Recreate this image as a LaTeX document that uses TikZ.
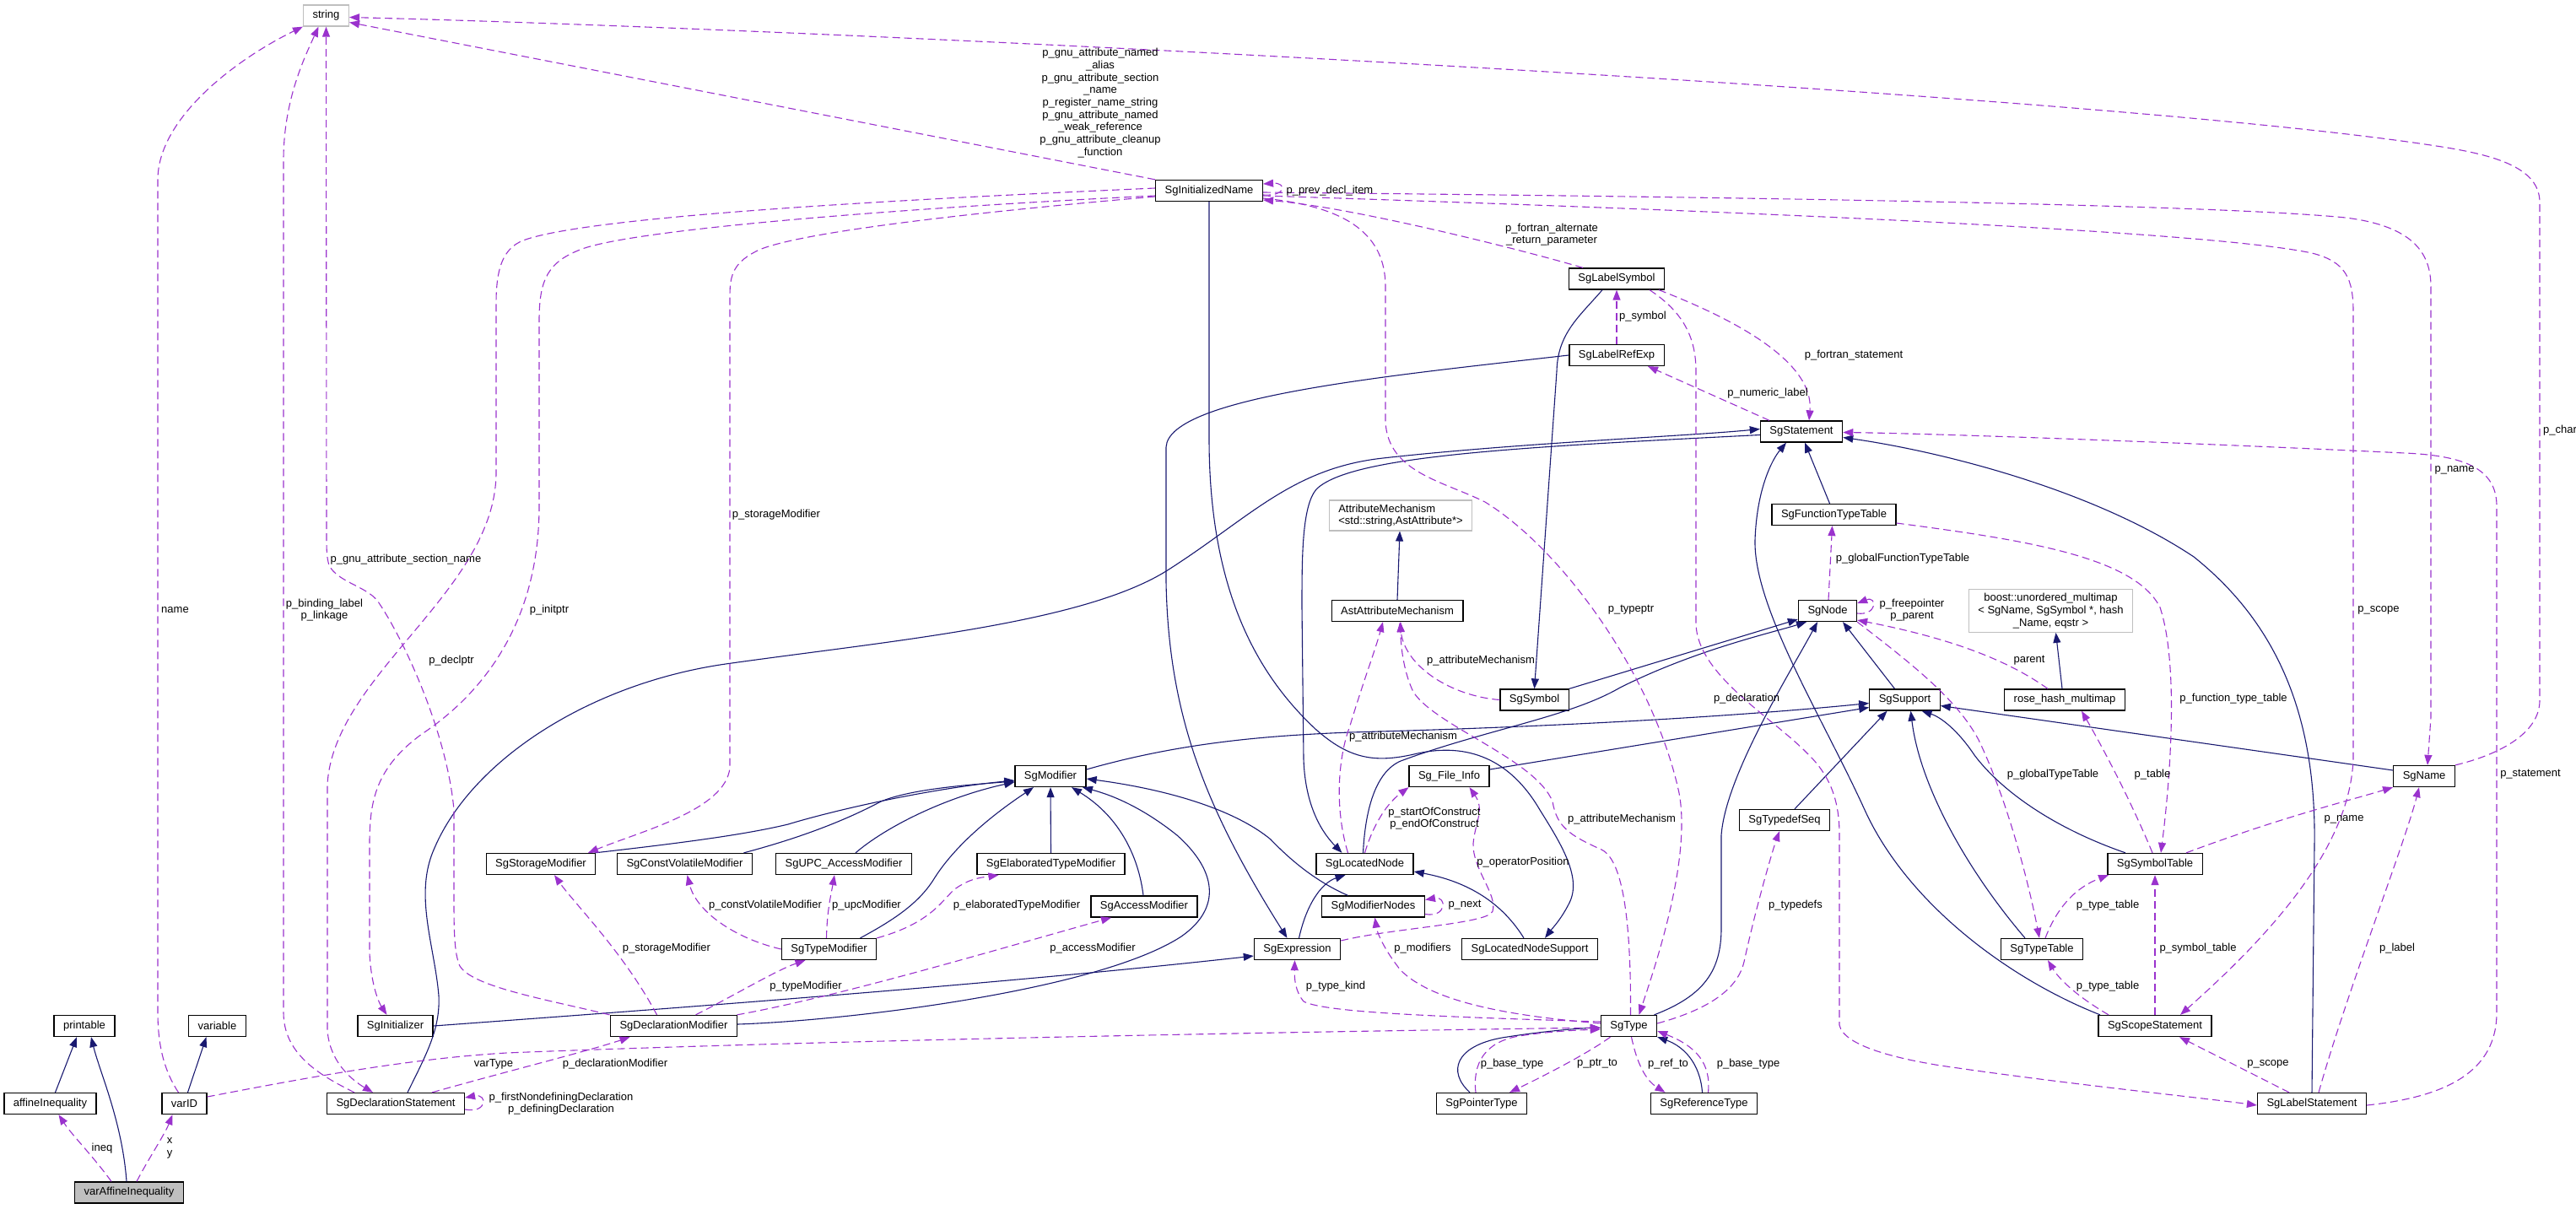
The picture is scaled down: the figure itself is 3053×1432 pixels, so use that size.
\documentclass[tikz,border=0pt]{standalone}
\usepackage{fontspec}
\setmainfont{Liberation Sans}
\usetikzlibrary{arrows.meta}
\definecolor{inhblue}{HTML}{191970}
\definecolor{usepurple}{HTML}{9A32CD}
\definecolor{extgray}{HTML}{BFBFBF}
\begin{document}
\begin{tikzpicture}[x=1pt,y=-1pt,
    font=\fontsize{13}{14.7}\selectfont,
    cls/.style={draw=black,line width=1.3pt,fill=white,inner xsep=11pt,inner ysep=3pt,minimum height=25pt},
    ext/.style={cls,draw=extgray,inner ysep=4.5pt},
    inh/.style={draw=inhblue,line width=1.1pt,-{Triangle[length=12pt,width=9pt]}},
    use/.style={draw=usepurple,line width=1.1pt,dash pattern=on 9pt off 5pt,-{Triangle[length=12pt,width=9pt]}},
    lbl/.style={inner sep=0pt,align=center}]
    \useasboundingbox (0,0) rectangle (3053,1432);
    \node[ext] (str) at (386.5,18.5) {string};
    \node[cls] (initname) at (1433,226) {SgInitializedName};
    \node[cls] (lsym) at (1916,330.5) {SgLabelSymbol};
    \node[cls] (lref) at (1916,421) {SgLabelRefExp};
    \node[cls] (stmt) at (2135,511.5) {SgStatement};
    \node[ext,align=left] (attrmech) at (1660,611) {AttributeMechanism\\<std::string,AstAttribute*>};
    \node[cls] (ftt) at (2173.5,610) {SgFunctionTypeTable};
    \node[cls] (astattr) at (1656,724) {AstAttributeMechanism};
    \node[cls] (sgnode) at (2166,724) {SgNode};
    \node[ext,align=center] (boost) at (2430.5,724) {boost::unordered\_multimap\\< SgName, SgSymbol *, hash\\\_Name, eqstr >};
    \node[cls] (sgsym) at (1818.5,829.5) {SgSymbol};
    \node[cls] (support) at (2257.5,829.5) {SgSupport};
    \node[cls] (rosehash) at (2447,829.5) {rose\_hash\_multimap};
    \node[cls] (finfo) at (1717.5,920) {Sg\_File\_Info};
    \node[cls] (modifier) at (1245,920) {SgModifier};
    \node[cls] (sgname) at (2873,920) {SgName};
    \node[cls] (tdseq) at (2115,972) {SgTypedefSeq};
    \node[cls] (storage) at (641,1024) {SgStorageModifier};
    \node[cls] (cvmod) at (811.5,1024) {SgConstVolatileModifier};
    \node[cls] (upcmod) at (1000,1024) {SgUPC\_AccessModifier};
    \node[cls] (elabmod) at (1245.5,1024) {SgElaboratedTypeModifier};
    \node[cls] (lnode) at (1617.5,1024) {SgLocatedNode};
    \node[cls] (symtab) at (2554,1024) {SgSymbolTable};
    \node[cls] (accmod) at (1356,1074.5) {SgAccessModifier};
    \node[cls] (modnodes) at (1627.5,1074.5) {SgModifierNodes};
    \node[cls] (typemod) at (982.5,1125) {SgTypeModifier};
    \node[cls] (expr) at (1537.5,1125) {SgExpression};
    \node[cls] (lnsup) at (1813,1125) {SgLocatedNodeSupport};
    \node[cls] (typetab) at (2420,1125) {SgTypeTable};
    \node[cls] (printable) at (100,1216) {printable};
    \node[cls] (variable) at (257.5,1216) {variable};
    \node[cls] (init) at (468.5,1216) {SgInitializer};
    \node[cls] (declmod) at (798.5,1216) {SgDeclarationModifier};
    \node[cls] (sgtype) at (1930.5,1216) {SgType};
    \node[cls] (scope) at (2554,1216) {SgScopeStatement};
    \node[cls] (affine) at (59.5,1308) {affineInequality};
    \node[cls] (varid) at (218.5,1308) {varID};
    \node[cls] (declstmt) at (469,1308) {SgDeclarationStatement};
    \node[cls] (ptrtype) at (1756,1308) {SgPointerType};
    \node[cls] (reftype) at (2019.5,1308) {SgReferenceType};
    \node[cls] (lstmt) at (2740,1308) {SgLabelStatement};
    \node[cls,fill=extgray] (varaff) at (153,1413.5) {varAffineInequality};
    \draw[inh] ([xshift=6pt]affine.north) -- ([xshift=-9pt]printable.south);
    \draw[inh] ([xshift=-3pt]varaff.north) .. controls (145,1330) and (118,1270) .. ([xshift=8pt]printable.south);
    \draw[inh] ([xshift=4pt]varid.north) -- ([xshift=-13pt]variable.south);
    \draw[inh] (initname.south) -- (1433,520) .. controls (1433,700) and (1490,800) .. (1560,865) .. controls (1600,900) and (1630,905) .. (1680,893) .. controls (1740,880) and (1790,900) .. (1825,960) .. controls (1850,1000) and (1875,1040) .. (1860,1070) .. controls (1850,1090) and (1840,1100) .. ([xshift=18pt]lnsup.north);
    \draw[inh] ([xshift=-17pt]lsym.south) .. controls (1872,375) and (1846,395) .. (1845,440) -- (sgsym.north);
    \draw[inh] (lref.west) .. controls (1650,445) and (1385,470) .. (1382,530) -- (1382,690) .. controls (1385,850) and (1430,960) .. ([xshift=-12pt]expr.north);
    \draw[inh] ([yshift=-4pt]stmt.west) .. controls (1800,530) and (1600,540) .. (1560,580) .. controls (1543,600) and (1543,660) .. (1543,720) -- (1545,900) .. controls (1547,960) and (1570,990) .. ([xshift=-27pt]lnode.north);
    \draw[inh] ([xshift=14pt]declstmt.north) .. controls (505,1250) and (522,1220) .. (520,1180) .. controls (515,1120) and (490,1060) .. (515,1005) .. controls (560,900) and (700,810) .. (860,787) .. controls (1050,760) and (1280,740) .. (1382,677) .. controls (1480,615) and (1530,555) .. (1639,543) .. controls (1800,525) and (2000,517) .. ([yshift=3pt]stmt.west);
    \draw[inh] ([xshift=-5pt]ftt.north) -- ([xshift=4pt]stmt.south);
    \draw[inh] ([xshift=-65pt]scope.north) .. controls (2380,1160) and (2260,1070) .. (2210,960) .. controls (2160,850) and (2078,720) .. (2080,640) .. controls (2082,580) and (2100,545) .. ([xshift=-18pt]stmt.south);
    \draw[inh] (lstmt.north) -- (2743,1000) .. controls (2745,850) and (2700,740) .. (2600,660) .. controls (2480,580) and (2300,535) .. ([yshift=-7pt]stmt.east);
    \draw[inh] (sgsym.north east) -- ([yshift=-10pt]sgnode.west);
    \draw[inh] ([xshift=-2pt]lnode.north) .. controls (1618,960) and (1630,915) .. (1660,902) .. controls (1760,865) and (1860,850) .. (1920,815) .. controls (2010,770) and (2100,750) .. ([xshift=-25pt]sgnode.south);
    \draw[inh] ([xshift=30pt]sgtype.north) .. controls (2020,1180) and (2040,1150) .. (2040,1100) -- (2040,990) .. controls (2045,920) and (2120,800) .. ([xshift=-12pt]sgnode.south);
    \draw[inh] ([xshift=-12pt]support.north) -- ([xshift=18pt]sgnode.south);
    \draw[inh] ([yshift=8pt]modifier.east) .. controls (1400,880) and (1500,872) .. (1600,868) .. controls (1900,860) and (2100,845) .. ([yshift=-4pt]support.west);
    \draw[inh] ([yshift=8pt]finfo.east) -- ([yshift=-9pt]support.west);
    \draw[inh] ([yshift=7pt]sgname.west) -- ([yshift=-7pt]support.east);
    \draw[inh] ([xshift=12pt]tdseq.north) -- ([xshift=-21pt]support.south);
    \draw[inh] ([xshift=-20pt]typetab.north) .. controls (2330,1030) and (2275,930) .. ([xshift=7pt]support.south);
    \draw[inh] ([xshift=-35pt]symtab.north) .. controls (2430,980) and (2370,935) .. (2340,895) .. controls (2320,865) and (2300,850) .. ([xshift=20pt]support.south);
    \draw[inh] ([xshift=-3pt]rosehash.north) -- ([xshift=6pt]boost.south);
    \draw[inh] (astattr.north) -- ([xshift=-1pt]attrmech.south);
    \draw[inh] ([xshift=64pt]storage.north) .. controls (800,1000) and (880,990) .. (934,977) .. controls (990,960) and (1100,935) .. ([yshift=-5pt]modifier.west);
    \draw[inh] ([xshift=70pt]cvmod.north) .. controls (960,990) and (1010,968) .. (1044,950) .. controls (1080,935) and (1150,930) .. ([yshift=-6pt]modifier.west);
    \draw[inh] ([xshift=14pt]upcmod.north) .. controls (1050,980) and (1120,945) .. ([yshift=-7pt]modifier.west);
    \draw[inh] ([xshift=37pt]typemod.north) .. controls (1060,1090) and (1090,1070) .. (1108,1040) .. controls (1140,990) and (1200,950) .. ([xshift=-20pt]modifier.south);
    \draw[inh] (elabmod.north) -- (modifier.south);
    \draw[inh] ([xshift=-1pt]accmod.north) .. controls (1350,1020) and (1330,970) .. ([xshift=25pt]modifier.south);
    \draw[inh] ([yshift=2pt]declmod.east) .. controls (1000,1210) and (1300,1175) .. (1400,1110) .. controls (1450,1075) and (1440,1030) .. (1395,990) .. controls (1355,958) and (1320,943) .. ([xshift=38pt]modifier.south);
    \draw[inh] ([xshift=-30pt]modnodes.north) .. controls (1560,1045) and (1530,1020) .. (1506,995) .. controls (1470,965) and (1400,938) .. ([yshift=-3pt]modifier.east);
    \draw[inh] ([xshift=2pt]expr.north) .. controls (1550,1065) and (1570,1045) .. ([xshift=-23pt]lnode.south);
    \draw[inh] ([xshift=-7pt]lnsup.north) .. controls (1780,1070) and (1740,1045) .. ([yshift=-9pt]lnode.east);
    \draw[inh] (init.east) .. controls (800,1195) and (1200,1165) .. ([yshift=-8pt]expr.west);
    \draw[inh] ([xshift=-14pt]ptrtype.north) .. controls (1715,1270) and (1725,1240) .. (1780,1230) .. controls (1830,1222) and (1870,1219) .. ([yshift=-2pt]sgtype.west);
    \draw[inh] ([xshift=-2pt]reftype.north) .. controls (2015,1260) and (1995,1240) .. (sgtype.south east);
    \draw[use] ([xshift=-21pt]varaff.north) .. controls (110,1370) and (85,1345) .. ([xshift=10pt]affine.south);
    \draw[use] ([xshift=9pt]varaff.north) .. controls (175,1375) and (195,1345) .. ([xshift=-14pt]varid.south);
    \draw[use] ([xshift=-7pt]varid.north) .. controls (195,1270) and (187,1240) .. (187,1200) -- (187,213) .. controls (187,140) and (280,70) .. (str.south west);
    \draw[use] ([yshift=8pt]varid.east) .. controls (350,1280) and (480,1255) .. (600,1248) .. controls (1000,1232) and (1600,1222) .. ([yshift=-2pt]sgtype.west);
    \draw[use] ([xshift=-49pt]declstmt.north) .. controls (380,1275) and (336,1250) .. (336,1200) -- (336,190) .. controls (336,120) and (360,70) .. ([xshift=-9pt]str.south);
    \draw[use] ([xshift=-76pt]declmod.north) .. controls (650,1185) and (560,1170) .. (545,1145) .. controls (538,1130) and (538,1100) .. (538,1060) -- (538,960) .. controls (530,870) and (480,760) .. (448,713) .. controls (435,695) and (400,690) .. (390,670) .. controls (387,660) and (387,650) .. (387,635) -- (str.south);
    \draw[use] ([yshift=3pt]initname.west) .. controls (1100,235) and (700,255) .. (620,285) .. controls (595,295) and (588,320) .. (588,360) -- (588,560) .. controls (588,700) and (395,800) .. (388,930) -- (388,1220) .. controls (390,1260) and (420,1282) .. ([xshift=-27pt]declstmt.north);
    \draw[use] ([yshift=-6pt]initname.west) .. controls (1100,245) and (760,270) .. (690,295) .. controls (650,310) and (639,330) .. (639,380) -- (639,600) .. controls (639,750) and (560,830) .. (500,870) .. controls (445,910) and (438,950) .. (438,1000) -- (438,1130) .. controls (440,1170) and (450,1190) .. ([xshift=-10pt]init.north);
    \draw[use] ([yshift=-7pt]initname.west) .. controls (1150,252) and (950,275) .. (900,296) .. controls (870,310) and (865,325) .. (865,350) -- (865,910) .. controls (860,960) and (760,985) .. ([xshift=56pt]storage.north);
    \draw[use] (initname.north west) -- ([yshift=-8pt]str.east);
    \draw[use] (sgname.north east) .. controls (2960,895) and (3010,870) .. (3010,830) -- (3010,240) .. controls (3010,200) and (2960,185) .. (2900,175) .. controls (2500,110) and (1000,35) .. ([yshift=-2pt]str.east);
    \draw[use] ([yshift=-5pt]initname.east) .. controls (1525,233) and (1525,216) .. ([yshift=8pt]initname.east);
    \draw[use] ([xshift=-40pt]lsym.north) .. controls (1800,295) and (1600,245) .. ([yshift=-11pt]initname.east);
    \draw[use] ([yshift=-9pt]initname.east) .. controls (1600,245) and (1642,280) .. (1642,340) -- (1642,500) .. controls (1645,560) and (1710,570) .. (1760,595) .. controls (1850,650) and (1960,800) .. (1990,940) .. controls (2005,1020) and (1960,1150) .. ([xshift=12pt]sgtype.north);
    \draw[use] ([yshift=-6pt]initname.east) .. controls (1900,245) and (2600,270) .. (2740,300) .. controls (2780,310) and (2789,330) .. (2789,370) -- (2789,900) .. controls (2785,1000) and (2700,1100) .. ([xshift=30pt]scope.north);
    \draw[use] ([yshift=-2pt]initname.east) .. controls (1900,232) and (2600,240) .. (2780,258) .. controls (2860,268) and (2881,300) .. (2881,340) -- (2881,850) -- ([xshift=4pt]sgname.north);
    \draw[use] ([xshift=50pt]lsym.south) .. controls (2060,380) and (2150,430) .. ([xshift=9pt]stmt.north);
    \draw[use] (lref.north) -- (lsym.south);
    \draw[use] ([xshift=-38pt]stmt.north) -- ([xshift=37pt]lref.south);
    \draw[use] ([xshift=39pt]lsym.south) .. controls (1995,370) and (2010,400) .. (2010,440) -- (2010,740) .. controls (2012,800) and (2100,850) .. (2142,893) .. controls (2170,920) and (2180,950) .. (2180,990) -- (2180,1215) .. controls (2185,1240) and (2250,1255) .. (2300,1263) .. controls (2450,1285) and (2600,1300) .. ([yshift=-2pt]lstmt.west);
    \draw[use] ([yshift=-2pt]lstmt.east) .. controls (2900,1300) and (2959,1270) .. (2959,1200) -- (2959,600) .. controls (2959,555) and (2920,540) .. (2850,537) .. controls (2600,525) and (2300,514) .. ([yshift=-1pt]stmt.east);
    \draw[use] ([xshift=8pt]lstmt.north) .. controls (2780,1180) and (2850,1000) .. ([xshift=-6pt]sgname.south);
    \draw[use] ([xshift=-27pt]lstmt.north) -- ([xshift=29pt]scope.south);
    \draw[use] (scope.north) -- (symtab.south);
    \draw[use] ([xshift=-55pt]scope.north) .. controls (2460,1180) and (2440,1160) .. ([xshift=7pt]typetab.south);
    \draw[use] ([xshift=4pt]typetab.north) .. controls (2440,1070) and (2465,1050) .. ([xshift=-55pt]symtab.south);
    \draw[use] ([xshift=37pt]symtab.north) .. controls (2700,970) and (2780,950) .. (sgname.south west);
    \draw[use] ([xshift=-3pt]symtab.north) .. controls (2530,960) and (2500,900) .. ([xshift=20pt]rosehash.south);
    \draw[use] ([yshift=-10pt]ftt.east) .. controls (2400,640) and (2530,660) .. (2560,720) .. controls (2580,780) and (2575,900) .. ([xshift=7pt]symtab.north);
    \draw[use] ([xshift=1pt]sgnode.north) -- ([xshift=-2pt]ftt.south);
    \draw[use] ([yshift=-3pt]sgnode.east) .. controls (2225,730) and (2225,706) .. ([yshift=9pt]sgnode.east);
    \draw[use] ([xshift=-20pt]rosehash.north) .. controls (2390,790) and (2330,760) .. ([yshift=-11pt]sgnode.east);
    \draw[use] (sgnode.south east) .. controls (2270,790) and (2320,830) .. (2345,877) .. controls (2380,950) and (2405,1050) .. ([xshift=-3pt]typetab.north);
    \draw[use] ([yshift=3pt]sgtype.east) .. controls (2030,1195) and (2060,1170) .. (2067,1140) .. controls (2080,1080) and (2100,1010) .. ([xshift=-6pt]tdseq.south);
    \draw[use] ([xshift=2pt]sgtype.north) .. controls (1933,1100) and (1925,1020) .. (1898,1007) .. controls (1860,990) and (1845,980) .. (1840,950) .. controls (1820,900) and (1700,860) .. (1675,820) .. controls (1665,800) and (1660,770) .. ([xshift=4pt]astattr.south);
    \draw[use] (sgsym.west) .. controls (1720,825) and (1665,790) .. ([xshift=3pt]astattr.south);
    \draw[use] ([xshift=-20pt]lnode.north) .. controls (1582,960) and (1585,900) .. (1600,860) .. controls (1615,810) and (1630,770) .. ([xshift=-17pt]astattr.south);
    \draw[use] (lnode.north) .. controls (1625,985) and (1640,955) .. ([xshift=-48pt]finfo.south);
    \draw[use] ([yshift=10pt]expr.east) .. controls (1650,1100) and (1765,1095) .. (1769,1080) .. controls (1775,1060) and (1745,1030) .. (1746,1000) .. controls (1748,975) and (1760,960) .. ([xshift=24pt]finfo.south);
    \draw[use] ([yshift=-9pt]modnodes.east) .. controls (1715,1088) and (1715,1062) .. ([yshift=8pt]modnodes.east);
    \draw[use] ([yshift=3pt]sgtype.west) .. controls (1800,1205) and (1700,1190) .. (1660,1150) .. controls (1640,1125) and (1632,1105) .. ([xshift=2pt]modnodes.south);
    \draw[use] ([yshift=5pt]sgtype.west) .. controls (1700,1205) and (1570,1200) .. (1545,1187) .. controls (1535,1175) and (1534,1160) .. ([xshift=-3pt]expr.south);
    \draw[use] ([xshift=-7pt]ptrtype.north) .. controls (1745,1260) and (1760,1235) .. (1800,1228) .. controls (1840,1222) and (1870,1221) .. ([yshift=-4pt]sgtype.west);
    \draw[use] ([xshift=-22pt]sgtype.south) .. controls (1880,1250) and (1820,1280) .. ([xshift=33pt]ptrtype.north);
    \draw[use] ([xshift=3pt]sgtype.south) .. controls (1940,1260) and (1950,1280) .. ([xshift=-46pt]reftype.north);
    \draw[use] ([xshift=5pt]reftype.north) .. controls (2028,1260) and (2010,1240) .. ([yshift=-6pt]sgtype.east);
    \draw[use] ([yshift=-7pt]declstmt.east) .. controls (578,1320) and (578,1296) .. ([yshift=7pt]declstmt.east);
    \draw[use] ([xshift=43pt]declstmt.north) .. controls (600,1270) and (700,1245) .. ([xshift=-52pt]declmod.south);
    \draw[use] ([xshift=-20pt]declmod.north) .. controls (740,1130) and (680,1070) .. ([xshift=16pt]storage.south);
    \draw[use] ([xshift=26pt]declmod.north) .. controls (870,1180) and (920,1150) .. ([xshift=-28pt]typemod.south);
    \draw[use] ([xshift=75pt]declmod.north) .. controls (1000,1180) and (1200,1120) .. ([xshift=-39pt]accmod.south);
    \draw[use] (typemod.west) .. controls (870,1112) and (825,1080) .. ([xshift=3pt]cvmod.south);
    \draw[use] ([xshift=-3pt]typemod.north) .. controls (980,1080) and (985,1060) .. ([xshift=-11pt]upcmod.south);
    \draw[use] (typemod.north east) .. controls (1100,1095) and (1115,1070) .. (1130,1055) .. controls (1150,1040) and (1165,1040) .. ([xshift=-62pt]elabmod.south);
    \node[lbl] (l1) at (121,1361) {ineq};
    \node[lbl] (l2) at (201,1361) {x\\y};
    \node[lbl] (l3) at (207.5,723) {name};
    \node[lbl] (l4) at (384.5,723) {p\_binding\_label\\p\_linkage};
    \node[lbl] (l5) at (481,663) {p\_gnu\_attribute\_section\_name};
    \node[lbl] (l6) at (535,783) {p\_declptr};
    \node[lbl] (l7) at (651,723) {p\_initptr};
    \node[lbl] (l8) at (920,610) {p\_storageModifier};
    \node[lbl] (l9) at (585,1261) {varType};
    \node[lbl] (l10) at (729,1261) {p\_declarationModifier};
    \node[lbl] (l11) at (665,1308) {p\_firstNondefiningDeclaration\\p\_definingDeclaration};
    \node[lbl] (l12) at (790,1124) {p\_storageModifier};
    \node[lbl] (l13) at (955,1169) {p\_typeModifier};
    \node[lbl] (l14) at (1295,1124) {p\_accessModifier};
    \node[lbl] (l15) at (907,1073) {p\_constVolatileModifier};
    \node[lbl] (l16) at (1027,1073) {p\_upcModifier};
    \node[lbl] (l17) at (1205,1073) {p\_elaboratedTypeModifier};
    \node[lbl] (l18) at (1304,122) {p\_gnu\_attribute\_named\\\_alias\\p\_gnu\_attribute\_section\\\_name\\p\_register\_name\_string\\p\_gnu\_attribute\_named\\\_weak\_reference\\p\_gnu\_attribute\_cleanup\\\_function};
    \node[lbl] (l19) at (1576,226) {p\_prev\_decl\_item};
    \node[lbl] (l20) at (1839,278) {p\_fortran\_alternate\\\_return\_parameter};
    \node[lbl] (l21) at (1947,375) {p\_symbol};
    \node[lbl] (l22) at (2197,421) {p\_fortran\_statement};
    \node[lbl] (l23) at (2095,466) {p\_numeric\_label};
    \node[lbl] (l24) at (1933,723) {p\_typeptr};
    \node[lbl] (l25) at (1755,783) {p\_attributeMechanism};
    \node[lbl] (l26) at (1663,873) {p\_attributeMechanism};
    \node[lbl] (l27) at (1922,971) {p\_attributeMechanism};
    \node[lbl] (l28) at (2255,662) {p\_globalFunctionTypeTable};
    \node[lbl] (l29) at (2266,723) {p\_freepointer\\p\_parent};
    \node[lbl] (l30) at (2405,783) {parent};
    \node[lbl] (l31) at (2070,828) {p\_declaration};
    \node[lbl] (l32) at (2647,828) {p\_function\_type\_table};
    \node[lbl] (l33) at (2433,918) {p\_globalTypeTable};
    \node[lbl] (l34) at (2551,918) {p\_table};
    \node[lbl] (l35) at (2819,723) {p\_scope};
    \node[lbl] (l36) at (2909,557) {p\_name};
    \node[lbl] (l37) at (3034,510) {p\_char};
    \node[lbl] (l38) at (2999,918) {p\_statement};
    \node[lbl] (l39) at (1700,970) {p\_startOfConstruct\\p\_endOfConstruct};
    \node[lbl] (l40) at (1805,1022) {p\_operatorPosition};
    \node[lbl] (l41) at (1736,1073) {p\_next};
    \node[lbl] (l42) at (1686,1124) {p\_modifiers};
    \node[lbl] (l43) at (1583,1169) {p\_type\_kind};
    \node[lbl] (l44) at (2128,1073) {p\_typedefs};
    \node[lbl] (l45) at (1792,1261) {p\_base\_type};
    \node[lbl] (l46) at (1893,1261) {p\_ptr\_to};
    \node[lbl] (l47) at (1977,1261) {p\_ref\_to};
    \node[lbl] (l48) at (2072,1261) {p\_base\_type};
    \node[lbl] (l49) at (2498,1073) {p\_type\_table};
    \node[lbl] (l50) at (2605,1124) {p\_symbol\_table};
    \node[lbl] (l51) at (2498,1169) {p\_type\_table};
    \node[lbl] (l52) at (2778,971) {p\_name};
    \node[lbl] (l53) at (2841,1124) {p\_label};
    \node[lbl] (l54) at (2688,1261) {p\_scope};
  \end{tikzpicture}
\end{document}
